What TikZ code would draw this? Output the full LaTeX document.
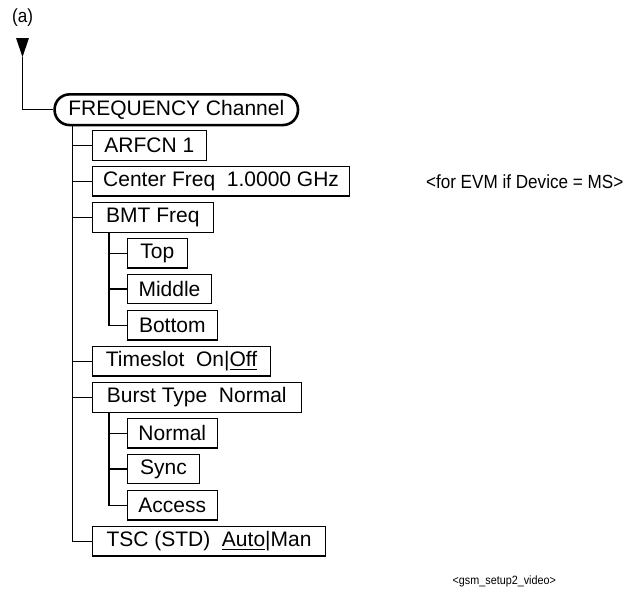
\documentclass[tikz,border=0pt]{standalone}
\usepackage{fontspec}
\setmainfont{Liberation Sans}
\newfontfamily\narrowfont[FakeStretch=0.9]{Liberation Sans}
\usetikzlibrary{calc,positioning}

\tikzset{
  menubox/.style={draw, line width=0.6pt, minimum width=#1, minimum height=14.75pt,
    inner xsep=2pt, inner ysep=0pt, anchor=west, font=\fontsize{10.5}{12}\selectfont},
  treeline/.style={line width=0.6pt},
  note/.style={font=\narrowfont\fontsize{9.5}{11}\selectfont}
}

\begin{document}
\begin{tikzpicture}[x=0.5pt,y=-0.5pt]
\useasboundingbox (0,0) rectangle (629,595);

\node [note] (lbl) at (22.7,17.5) {(a)};
\fill (16,38) -- (29,38) -- (22.5,57) -- cycle;
\coordinate (entry) at (22.5,57);

\node [draw, line width=1.3pt, rounded corners=7.5pt, minimum width=121.7pt, minimum height=15.35pt,
  inner sep=0pt, anchor=west, font=\fontsize{10.5}{12}\selectfont] (freq) at (53.3,109.7) {FREQUENCY Channel};
\draw [treeline] (entry) |- (freq.west);

\node [menubox=57pt] (arfcn) at (91.7,145.5) {ARFCN 1};
\node [menubox=128.8pt] (center) at (91.7,181.3) {Center Freq~~1.0000 GHz};
\node [menubox=60.5pt] (bmt) at (91.7,217.5) {BMT Freq};
\node [menubox=30pt] (top) at (126.7,253.3) {Top};
\node [menubox=42.2pt] (middle) at (126.7,289) {Middle};
\node [menubox=45pt] (bottom) at (126.7,325.3) {Bottom};
\node [menubox=89.2pt] (timeslot) at (91.7,361.3) {Timeslot~~On|\underline{Off}};
\node [menubox=104.5pt] (burst) at (91.7,397.5) {Burst Type~~Normal};
\node [menubox=45pt] (normal) at (126.7,433.3) {Normal};
\node [menubox=36.2pt] (sync) at (126.7,469) {Sync};
\node [menubox=45pt] (access) at (126.7,505.3) {Access};
\node [menubox=116.7pt] (tsc) at (91.7,541.3) {TSC (STD)~~\underline{Auto}|Man};

\node [note, anchor=west] (evm) at (419,181.7) {<for EVM if Device = MS>};
\node [font=\narrowfont\fontsize{6}{7}\selectfont] (tag) at (504.3,581.7) {<gsm\_setup2\_video>};

\coordinate (t0) at ($(freq.south west)+(19.4,0)$);
\draw [treeline] (t0) |- (tsc.west);
\foreach \n in {arfcn,center,bmt,timeslot,burst}
  \draw [treeline] (\n.west) -- (\n.west -| t0);

\coordinate (s1) at ($(bmt.south west)+(17.3,0)$);
\draw [treeline] (s1) |- (bottom.west);
\foreach \n in {top,middle}
  \draw [treeline] (\n.west) -- (\n.west -| s1);

\coordinate (s2) at ($(burst.south west)+(17.3,0)$);
\draw [treeline] (s2) |- (access.west);
\foreach \n in {normal,sync}
  \draw [treeline] (\n.west) -- (\n.west -| s2);
\end{tikzpicture}
\end{document}
